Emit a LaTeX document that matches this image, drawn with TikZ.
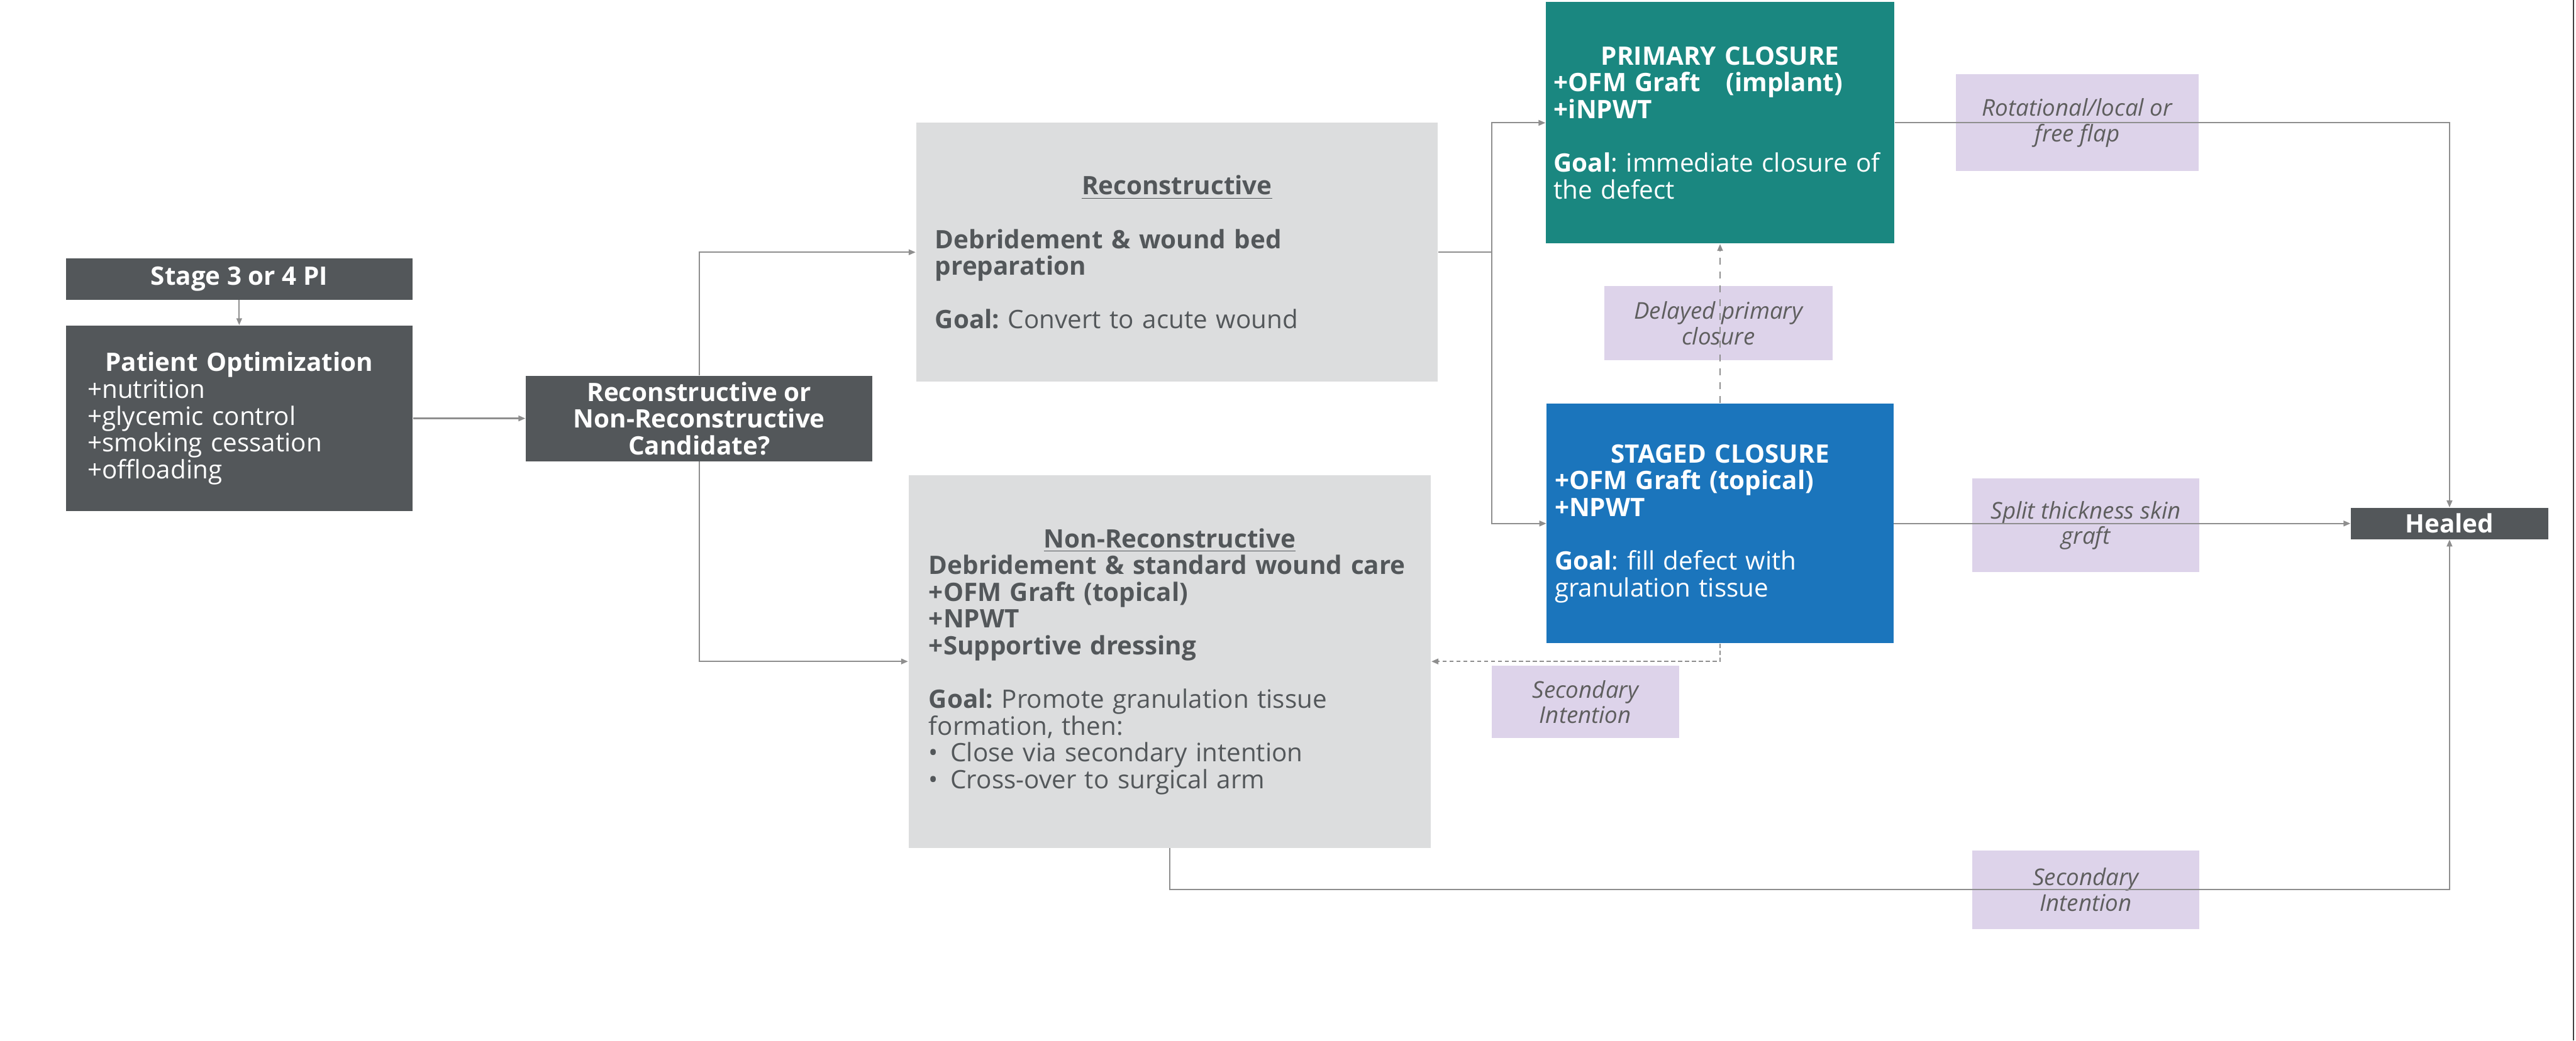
\documentclass[tikz,border=0pt]{standalone}
\usepackage{fontspec}
\setmainfont{Open Sans}
\usetikzlibrary{arrows.meta}
\frenchspacing

\definecolor{boxdark}{HTML}{53575A}
\definecolor{boxgrey}{HTML}{DCDDDE}
\definecolor{closeteal}{HTML}{1A8780}
\definecolor{closeblue}{HTML}{1B75BC}
\definecolor{notelilac}{HTML}{DDD3EA}
\definecolor{notetext}{HTML}{5E5E5E}
\definecolor{linegrey}{HTML}{8E8E8E}

\newcommand{\boxfont}{\fontsize{11pt}{11.6pt}\selectfont}
\newcommand{\notefont}{\fontsize{10pt}{11pt}\selectfont\itshape}
\newcommand{\boxtitle}[1]{\makebox[\hsize][c]{\bfseries #1}}
\newcommand{\gap}{\\[11.6pt]}
\newcommand{\bul}{\makebox[0.33cm][l]{\textbullet}}

\tikzset{
	every node/.style={font=\boxfont},
	darkbox/.style={rectangle, fill=boxdark, text=white, font=\boxfont\bfseries, align=center, inner sep=0pt},
	greybox/.style={rectangle, fill=boxgrey, text=boxdark, align=left, inner ysep=0pt},
	closebox/.style={rectangle, text=white, align=left, inner xsep=0.12cm, inner ysep=0pt},
	note/.style={rectangle, fill=notelilac, text=notetext, font=\notefont, align=center, inner sep=0pt},
	link/.style={draw=linegrey, line width=0.6pt},
	arrow/.style={link, -{Triangle[length=3pt,width=2.4pt]}},
}

\begin{document}
\begin{tikzpicture}
	\useasboundingbox (0,0) rectangle (39.2,15.84);
	\def\bw{5.275} % width of the small boxes
	% transition notes, under the connectors
	\node[note, minimum width=3.475cm, minimum height=1.125cm] (delayed) at (26.15,10.92) {Delayed primary\\closure};
	\node[note, minimum width=2.85cm, minimum height=1.1cm] (secmid) at (24.125,5.155) {Secondary\\Intention};
	\node[note, minimum width=3.7cm, minimum height=1.475cm] (flap) at (31.61,13.97) {Rotational/local or\\free flap};
	\node[note, minimum width=3.45cm, minimum height=1.425cm] (stsg) at (31.74,7.84) {Split thickness skin\\graft};
	\node[note, minimum width=3.45cm, minimum height=1.2cm] (secbot) at (31.74,2.295) {Secondary\\Intention};
	% left column
	\node[darkbox, minimum width=\bw cm, minimum height=0.625cm] (stage) at (3.64,11.59) {Stage 3 or 4 PI};
	\node[darkbox, font=\boxfont, align=left, minimum width=\bw cm, minimum height=2.825cm, inner xsep=0.33cm, text width=4.615cm] (patient) at (3.64,9.47) {\boxtitle{Patient Optimization}\\+nutrition\\+glycemic control\\+smoking cessation\\+offloading};
	\node[darkbox, minimum width=\bw cm, minimum height=1.3cm] (candidate) at (10.64,9.47) {Reconstructive or\\Non-Reconstructive\\Candidate?};
	% treatment arms
	\node[greybox, minimum width=7.94cm, minimum height=3.945cm, inner xsep=0.29cm, text width=7.36cm] (recon) at (17.91,12.0) {\boxtitle{\underline{Reconstructive}}\gap\textbf{Debridement \& wound bed}\\\textbf{preparation}\gap\textbf{Goal:} Convert to acute wound};
	\node[greybox, minimum width=7.95cm, minimum height=5.675cm, inner xsep=0.31cm, text width=7.33cm] (nonrecon) at (17.8,5.77) {\boxtitle{\underline{Non-Reconstructive}}\\\textbf{Debridement \& standard wound care}\\\textbf{+OFM Graft (topical)}\\\textbf{+NPWT}\\\textbf{+Supportive dressing}\gap\textbf{Goal:} Promote granulation tissue\\formation, then:\\\bul Close via secondary intention\\\bul Cross-over to surgical arm};
	% closures
	\node[closebox, fill=closeteal, minimum width=5.3cm, minimum height=3.675cm, text width=5.06cm] (primary) at (26.175,13.97) {\boxtitle{PRIMARY CLOSURE}\\\textbf{+OFM Graft\ \ \ (implant)}\\\textbf{+iNPWT}\gap\textbf{Goal}: immediate closure of\\the defect};
	\node[closebox, fill=closeblue, minimum width=\bw cm, minimum height=3.65cm, text width=5.035cm] (staged) at (26.175,7.87) {\boxtitle{STAGED CLOSURE}\\\textbf{+OFM Graft (topical)}\\\textbf{+NPWT}\gap\textbf{Goal}: fill defect with\\granulation tissue};
	\node[darkbox, minimum width=3.0cm, minimum height=0.475cm] (healed) at (37.275,7.87) {Healed};
	% connectors
	\draw[arrow] (stage) -- (patient);
	\draw[arrow] (patient) -- (candidate);
	\draw[arrow] (candidate.north) |- (recon.west);
	\draw[arrow] (candidate.south) |- (nonrecon.west);
	\coordinate (fork) at (22.7,12.0);
	\draw[link] (recon.east) -- (fork);
	\draw[arrow] (fork) |- (primary.west);
	\draw[arrow] (fork) |- (staged.west);
	\draw[arrow] (primary.east) -| (healed.north);
	\draw[arrow] (staged.east) -- (healed.west);
	\draw[arrow, dashed] (staged.north) -- (primary.south);
	\draw[arrow, dash pattern=on 1.8pt off 1.2pt] (staged.south) |- (nonrecon.east);
	\coordinate (corner) at (healed.south |- secbot);
	\draw[arrow] (nonrecon.south) |- (corner) -- (healed.south);
	% window edge
	\draw[black!75, line width=0.5pt] (39.16,0) -- (39.16,15.84);
\end{tikzpicture}
\end{document}
